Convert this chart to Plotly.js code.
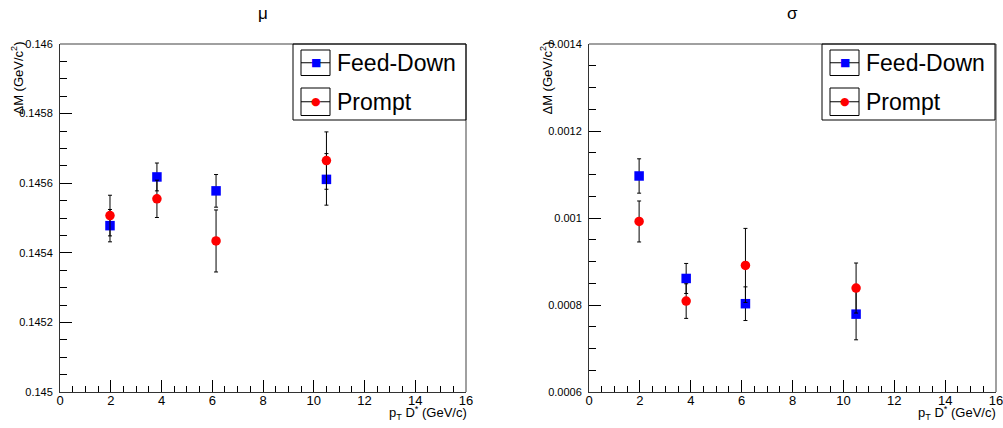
<!DOCTYPE html>
<html>
<head>
<meta charset="utf-8">
<script src="https://cdn.plot.ly/plotly-3.0.1.min.js"></script>
<style>html,body{margin:0;padding:0;background:#fff;}#chart{width:1003px;height:428px;}</style>
</head>
<body>
<div id="chart"></div>
<script>
// ---- data ----
const ptFD = [1.97, 3.82, 6.15, 10.5];
const ptPrompt = [1.97, 3.82, 6.15, 10.5];
const muFD = [0.145478, 0.145618, 0.145578, 0.145611];
const muFDErr = [0.0000465, 0.0000400, 0.0000469, 0.0000741];
const muPrompt = [0.145507, 0.145555, 0.145434, 0.145665];
const muPromptErr = [0.0000584, 0.0000536, 0.0000891, 0.0000824];
const sigFD = [0.0010966, 0.000861, 0.000803, 0.000779];
const sigFDErr = [0.0000395, 0.0000345, 0.0000387, 0.0000590];
const sigPrompt = [0.000992, 0.000809, 0.000891, 0.000839];
const sigPromptErr = [0.0000471, 0.0000398, 0.0000851, 0.0000575];
const seriesNames = ["Feed-Down", "Prompt"];
const panelTitles = ["\u03bc", "\u03c3"];

// ---- layout helpers ----
const W = 1003, H = 428;
const mL = 60, mR = 7, mT = 44, mB = 36;
const pw = W - mL - mR, ph = H - mT - mB;
const px = v => (v - mL) / pw;
const py = v => (H - mB - v) / ph;
const FONT = "Liberation Sans, Arial, sans-serif";

function fdTrace(x, y, e, xa, ya) {
  return {x: x, y: y, xaxis: xa, yaxis: ya, type: 'scatter', mode: 'markers', name: seriesNames[0], showlegend: false,
    marker: {symbol: 'square', size: 9.5, color: '#0000ff'},
    error_y: {type: 'data', array: e, visible: true, color: '#000', thickness: 1, width: 2}};
}
function prTrace(x, y, e, xa, ya) {
  return {x: x, y: y, xaxis: xa, yaxis: ya, type: 'scatter', mode: 'markers', name: seriesNames[1], showlegend: false,
    marker: {symbol: 'circle', size: 9.5, color: '#ff0000'},
    error_y: {type: 'data', array: e, visible: true, color: '#000', thickness: 1, width: 2}};
}

const data = [
  fdTrace(ptFD, muFD, muFDErr, 'x', 'y'),
  prTrace(ptPrompt, muPrompt, muPromptErr, 'x', 'y'),
  fdTrace(ptFD, sigFD, sigFDErr, 'x2', 'y2'),
  prTrace(ptPrompt, sigPrompt, sigPromptErr, 'x2', 'y2')
];

function xax(domain, anchor) {
  return {domain: domain, anchor: anchor, range: [0, 16], tickmode: 'linear', tick0: 0, dtick: 2,
    ticks: 'inside', ticklen: 12, tickcolor: '#000', tickwidth: 1, showgrid: false, zeroline: false,
    showline: true, linecolor: '#333', linewidth: 1, ticklabeloverflow: 'allow',
    minor: {ticks: 'inside', ticklen: 6, dtick: 0.5, tickcolor: '#000', showgrid: false},
    tickfont: {family: FONT, size: 13, color: '#000'}, ticklabelstandoff: -4};
}
function yax(domain, anchor, range, dt, mdt, fmt) {
  return {domain: domain, anchor: anchor, range: range, tickmode: 'linear', tick0: range[0], dtick: dt,
    ticks: 'inside', ticklen: 12, tickcolor: '#000', tickwidth: 1, showgrid: false, zeroline: false,
    showline: true, linecolor: '#333', linewidth: 1, ticklabeloverflow: 'allow',
    minor: {ticks: 'inside', ticklen: 7, dtick: mdt, tickcolor: '#000', showgrid: false},
    tickformat: fmt, tickfont: {family: FONT, size: 11, color: '#000'}, ticklabelstandoff: 4};
}

const d1 = [0, px(466)], d2 = [px(589), 1];

const shapes = [];
const annotations = [];
// frames (top and right edges, grey)
[['x domain', 'y domain'], ['x2 domain', 'y2 domain']].forEach(r => {
  shapes.push({type: 'line', xref: r[0], yref: r[1], x0: 0, x1: 1, y0: 1, y1: 1, line: {color: '#808080', width: 1.5}});
  shapes.push({type: 'line', xref: r[0], yref: r[1], x0: 1, x1: 1, y0: 0, y1: 1, line: {color: '#808080', width: 1.5}});
});

// legends and titles for both panels
[0, 529].forEach((off, i) => {
  // legend frame
  shapes.push({type: 'rect', xref: 'paper', yref: 'paper', x0: px(293 + off), x1: px(466 + off), y0: py(120), y1: py(44),
    line: {color: '#000', width: 1}, fillcolor: 'rgba(255,255,255,0)'});
  const rows = [{y0: 50, y1: 75.5, col: '#0000ff', sym: '\u25a0', name: seriesNames[0]},
                {y0: 88, y1: 115.5, col: '#ff0000', sym: '\u25cf', name: seriesNames[1]}];
  rows.forEach(r => {
    const cy = (r.y0 + r.y1) / 2;
    shapes.push({type: 'rect', xref: 'paper', yref: 'paper', x0: px(301 + off), x1: px(330 + off), y0: py(r.y1), y1: py(r.y0),
      line: {color: '#000', width: 1}});
    shapes.push({type: 'line', xref: 'paper', yref: 'paper', x0: px(301 + off), x1: px(330 + off), y0: py(cy), y1: py(cy),
      line: {color: '#000', width: 1}});
    annotations.push({xref: 'paper', yref: 'paper', x: px(315.5 + off), y: py(cy), text: r.sym, showarrow: false,
      xanchor: 'center', yanchor: 'middle', font: {family: 'DejaVu Sans', size: 11, color: r.col}});
    annotations.push({xref: 'paper', yref: 'paper', x: px(335 + off), y: py(cy), text: r.name, showarrow: false,
      xanchor: 'left', yanchor: 'middle', font: {family: FONT, size: 23, color: '#000'}});
  });
  // panel title
  annotations.push({xref: 'paper', yref: 'paper', x: px(263 + off), y: py(14), text: panelTitles[i], showarrow: false,
    xanchor: 'center', yanchor: 'middle', font: {family: FONT, size: 17, color: '#000'}});
  // x axis title
  annotations.push({xref: 'paper', yref: 'paper', x: px(469 + off), y: py(413), text: 'p<sub>T</sub> D<sup>*</sup> (GeV/c)', showarrow: false,
    xanchor: 'right', yanchor: 'middle', font: {family: FONT, size: 13, color: '#000'}});
  // y axis title
  annotations.push({xref: 'paper', yref: 'paper', x: px(18 + off), y: py(40), text: '\u0394M (GeV/c<sup>2</sup>)', showarrow: false,
    textangle: -90, xanchor: 'center', yanchor: 'top', font: {family: FONT, size: 13, color: '#000'}});
});

const layout = {
  width: W, height: H, margin: {l: mL, r: mR, t: mT, b: mB}, paper_bgcolor: '#fff', plot_bgcolor: '#fff',
  showlegend: false,
  xaxis: xax(d1, 'y'),
  yaxis: yax([0, 1], 'x', [0.145, 0.146], 0.0002, 0.00005, '.4~f'),
  xaxis2: xax(d2, 'y2'),
  yaxis2: yax([0, 1], 'x2', [0.0006, 0.0014], 0.0002, 0.00005, '.4~f'),
  shapes: shapes, annotations: annotations
};

Plotly.newPlot('chart', data, layout, {displayModeBar: false, staticPlot: true});
</script>
</body>
</html>
